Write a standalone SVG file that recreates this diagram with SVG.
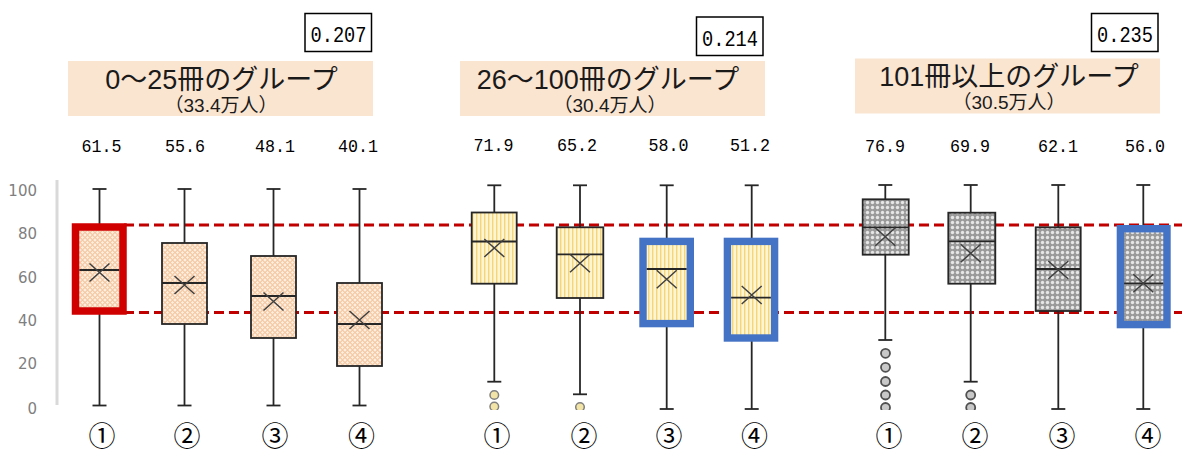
<svg xmlns="http://www.w3.org/2000/svg" width="1200" height="459" viewBox="0 0 1200 459">
<style>
.wh{stroke:#262626;stroke-width:1.8;fill:none}
.bx{stroke:#262626;stroke-width:1.8}
.med{stroke:#262626;stroke-width:1.8}
.mean{stroke:#404040;stroke-width:1.5;fill:none}
.hlr{stroke:#D00000;stroke-width:7.5}
.hlb{stroke:#4472C4;stroke-width:7.4}
.guide{stroke:#C00000;stroke-width:3.2;stroke-dasharray:10 5;fill:none}
.band{fill:#FAE5D1}
.title{font-family:"Liberation Sans","Noto Sans CJK JP",sans-serif;font-size:27px;fill:#1a1a1a;text-anchor:middle}
.sub{font-family:"Liberation Sans","Noto Sans CJK JP",sans-serif;font-size:19px;fill:#1a1a1a;text-anchor:middle}
.val{font-family:"Liberation Mono",monospace;font-size:19px;fill:#000;text-anchor:middle}
.coef{font-family:"Liberation Mono",monospace;font-size:22px;fill:#000;text-anchor:middle}
.cbox{fill:#fff;stroke:#000;stroke-width:1.5}
.ylab{font-family:"DejaVu Sans",sans-serif;font-size:15px;fill:#7F7F7F;text-anchor:end}
.cn{font-family:"Noto Sans CJK JP",sans-serif;font-size:27px;fill:#000;text-anchor:middle}
.o2{fill:#F2E3A6;stroke:#808080;stroke-width:1.5}
.o3{fill:#C8C8C8;stroke:#505050;stroke-width:1.8}
</style>
<defs>
<pattern id="p1" width="5" height="5" patternUnits="userSpaceOnUse">
<rect width="5" height="5" fill="#FDEEDF"/>
<circle cx="2.5" cy="2.5" r="1.9" fill="none" stroke="#F0B07A" stroke-width="0.8"/>
</pattern>
<pattern id="p2" width="4" height="4" patternUnits="userSpaceOnUse">
<rect width="4" height="4" fill="#FFF5D2"/>
<rect x="0" width="1.4" height="4" fill="#F3D57A"/>
</pattern>
<pattern id="p3" width="5" height="5" patternUnits="userSpaceOnUse">
<rect width="5" height="5" fill="#9A9A9A"/>
<circle cx="2.5" cy="2.5" r="1.7" fill="#E6E6E6"/>
</pattern>
<clipPath id="clipPlot"><rect x="0" y="170" width="1200" height="240"/></clipPath>
</defs>
<rect width="1200" height="459" fill="#fff"/>

<g id="axis">
<line x1="57" y1="180" x2="57" y2="405" stroke="#D9D9D9" stroke-width="3"/>
<text class="ylab" x="37" y="195.5">100</text>
<text class="ylab" x="37" y="238.5">80</text>
<text class="ylab" x="37" y="282.5">60</text>
<text class="ylab" x="37" y="325.5">40</text>
<text class="ylab" x="37" y="368.5">20</text>
<text class="ylab" x="37" y="413.5">0</text>
</g>

<g id="connectors">
<line class="guide" x1="124" y1="225" x2="1182" y2="225"/>
<line class="guide" x1="124" y1="312.5" x2="1182" y2="312.5"/>
</g>

<g id="header-g1">
<rect class="cbox" x="305" y="13.5" width="66.5" height="38"/>
<text class="coef" x="338.5" y="41.5" textLength="56" lengthAdjust="spacingAndGlyphs">0.207</text>
<rect class="band" x="68" y="61" width="305" height="55"/>
<text class="title" x="221.5" y="88.5">0～25冊のグループ</text>
<text class="sub" x="221" y="112">（33.4万人）</text>
<text class="val" x="101.5" y="152" textLength="40" lengthAdjust="spacingAndGlyphs">61.5</text>
<text class="val" x="185" y="152" textLength="40" lengthAdjust="spacingAndGlyphs">55.6</text>
<text class="val" x="275" y="152" textLength="40" lengthAdjust="spacingAndGlyphs">48.1</text>
<text class="val" x="358" y="152" textLength="40" lengthAdjust="spacingAndGlyphs">40.1</text>
</g>
<g id="header-g2">
<rect class="cbox" x="696.5" y="17" width="66.5" height="38.5"/>
<text class="coef" x="730" y="45.5" textLength="56" lengthAdjust="spacingAndGlyphs">0.214</text>
<rect class="band" x="460" y="61" width="305" height="55"/>
<text class="title" x="608" y="88.5">26～100冊のグループ</text>
<text class="sub" x="610" y="112">（30.4万人）</text>
<text class="val" x="493.5" y="151" textLength="40" lengthAdjust="spacingAndGlyphs">71.9</text>
<text class="val" x="577" y="151" textLength="40" lengthAdjust="spacingAndGlyphs">65.2</text>
<text class="val" x="668.5" y="151" textLength="40" lengthAdjust="spacingAndGlyphs">58.0</text>
<text class="val" x="750" y="151" textLength="40" lengthAdjust="spacingAndGlyphs">51.2</text>
</g>
<g id="header-g3">
<rect class="cbox" x="1091.5" y="13.5" width="66.5" height="38"/>
<text class="coef" x="1125" y="41.5" textLength="56" lengthAdjust="spacingAndGlyphs">0.235</text>
<rect class="band" x="855" y="58.5" width="305" height="55"/>
<text class="title" x="1009" y="85.5">101冊以上のグループ</text>
<text class="sub" x="1009" y="109">（30.5万人）</text>
<text class="val" x="885" y="152" textLength="40" lengthAdjust="spacingAndGlyphs">76.9</text>
<text class="val" x="970" y="152" textLength="40" lengthAdjust="spacingAndGlyphs">69.9</text>
<text class="val" x="1058" y="152" textLength="40" lengthAdjust="spacingAndGlyphs">62.1</text>
<text class="val" x="1145" y="152" textLength="40" lengthAdjust="spacingAndGlyphs">56.0</text>
</g>

<!-- Group 1 -->
<g id="g1-b1">
<line class="wh" x1="99.5" y1="189" x2="99.5" y2="405.5"/>
<line class="wh" x1="92.5" y1="189" x2="106.5" y2="189"/>
<line class="wh" x1="92.5" y1="405.5" x2="106.5" y2="405.5"/>
<rect class="hlr" x="75.5" y="227" width="47.5" height="84" fill="url(#p1)"/>
<line class="med" x1="79.3" y1="270" x2="119.2" y2="270"/>
<path class="mean" d="M89.5 263.5L109.5 281.5M89.5 281.5L109.5 263.5"/>
<text class="cn" x="102" y="446">①</text>
</g>
<g id="g1-b2">
<line class="wh" x1="184.5" y1="189" x2="184.5" y2="405.5"/>
<line class="wh" x1="177.5" y1="189" x2="191.5" y2="189"/>
<line class="wh" x1="177.5" y1="405.5" x2="191.5" y2="405.5"/>
<rect class="bx" x="162" y="243" width="45" height="81" fill="url(#p1)"/>
<line class="med" x1="162" y1="283" x2="207" y2="283"/>
<path class="mean" d="M174.5 276L194.5 294M174.5 294L194.5 276"/>
<text class="cn" x="187" y="446">②</text>
</g>
<g id="g1-b3">
<line class="wh" x1="273.5" y1="189" x2="273.5" y2="405.5"/>
<line class="wh" x1="266.5" y1="189" x2="280.5" y2="189"/>
<line class="wh" x1="266.5" y1="405.5" x2="280.5" y2="405.5"/>
<rect class="bx" x="251" y="256" width="45" height="82" fill="url(#p1)"/>
<line class="med" x1="251" y1="296" x2="296" y2="296"/>
<path class="mean" d="M263.5 292.5L283.5 310.5M263.5 310.5L283.5 292.5"/>
<text class="cn" x="275" y="446">③</text>
</g>
<g id="g1-b4">
<line class="wh" x1="359.5" y1="189" x2="359.5" y2="405.5"/>
<line class="wh" x1="352.5" y1="189" x2="366.5" y2="189"/>
<line class="wh" x1="352.5" y1="405.5" x2="366.5" y2="405.5"/>
<rect class="bx" x="337" y="283" width="45" height="83" fill="url(#p1)"/>
<line class="med" x1="337" y1="324" x2="382" y2="324"/>
<path class="mean" d="M349.5 311L369.5 329M349.5 329L369.5 311"/>
<text class="cn" x="361.5" y="446">④</text>
</g>

<!-- Group 2 -->
<g id="g2-b1">
<line class="wh" x1="494.3" y1="185.3" x2="494.3" y2="381.7"/>
<line class="wh" x1="487.3" y1="185.3" x2="501.3" y2="185.3"/>
<line class="wh" x1="487.3" y1="381.7" x2="501.3" y2="381.7"/>
<rect class="bx" x="471.7" y="212.5" width="45" height="71.2" fill="url(#p2)"/>
<line class="med" x1="471.7" y1="241.5" x2="516.7" y2="241.5"/>
<path class="mean" d="M484.3 239L504.3 257M484.3 257L504.3 239"/>
<g clip-path="url(#clipPlot)"><circle class="o2" cx="494.3" cy="395" r="4.3"/><circle class="o2" cx="494.3" cy="406.5" r="4.3"/></g>
<text class="cn" x="497" y="446">①</text>
</g>
<g id="g2-b2">
<line class="wh" x1="580" y1="185.3" x2="580" y2="394.3"/>
<line class="wh" x1="573" y1="185.3" x2="587" y2="185.3"/>
<line class="wh" x1="573" y1="394.3" x2="587" y2="394.3"/>
<rect class="bx" x="556.7" y="227.3" width="46.6" height="70.7" fill="url(#p2)"/>
<line class="med" x1="556.7" y1="254.3" x2="603.3" y2="254.3"/>
<path class="mean" d="M570 254.3L590 272.3M570 272.3L590 254.3"/>
<g clip-path="url(#clipPlot)"><circle class="o2" cx="580" cy="407" r="4.3"/></g>
<text class="cn" x="584" y="446">②</text>
</g>
<g id="g2-b3">
<line class="wh" x1="666.7" y1="185.3" x2="666.7" y2="409"/>
<line class="wh" x1="659.7" y1="185.3" x2="673.7" y2="185.3"/>
<line class="wh" x1="659.7" y1="409" x2="673.7" y2="409"/>
<rect class="hlb" x="643" y="241.4" width="47.3" height="82.2" fill="url(#p2)"/>
<line class="med" x1="646.7" y1="269" x2="686.6" y2="269"/>
<path class="mean" d="M656.7 270.3L676.7 288.3M656.7 288.3L676.7 270.3"/>
<text class="cn" x="669" y="446">③</text>
</g>
<g id="g2-b4">
<line class="wh" x1="751.7" y1="185.3" x2="751.7" y2="409"/>
<line class="wh" x1="744.7" y1="185.3" x2="758.7" y2="185.3"/>
<line class="wh" x1="744.7" y1="409" x2="758.7" y2="409"/>
<rect class="hlb" x="727.4" y="241.4" width="47.2" height="96.6" fill="url(#p2)"/>
<line class="med" x1="731.1" y1="297.7" x2="770.9" y2="297.7"/>
<path class="mean" d="M741.7 286L761.7 304M741.7 304L761.7 286"/>
<text class="cn" x="754.5" y="446">④</text>
</g>

<!-- Group 3 -->
<g id="g3-b1">
<line class="wh" x1="885.3" y1="185" x2="885.3" y2="340"/>
<line class="wh" x1="878.3" y1="185" x2="892.3" y2="185"/>
<line class="wh" x1="878.3" y1="340" x2="892.3" y2="340"/>
<rect class="bx" x="862.7" y="199.3" width="46" height="55.4" fill="url(#p3)"/>
<line class="med" x1="862.7" y1="227.3" x2="908.7" y2="227.3"/>
<path class="mean" d="M875.3 227.7L895.3 245.7M875.3 245.7L895.3 227.7"/>
<g clip-path="url(#clipPlot)">
<circle class="o3" cx="885.5" cy="353.3" r="4.5"/>
<circle class="o3" cx="885.5" cy="367.3" r="4.5"/>
<circle class="o3" cx="885.5" cy="381.5" r="4.5"/>
<circle class="o3" cx="885.5" cy="395" r="4.5"/>
<circle class="o3" cx="885.5" cy="407.5" r="4.5"/>
</g>
<text class="cn" x="889" y="446">①</text>
</g>
<g id="g3-b2">
<line class="wh" x1="970.7" y1="185" x2="970.7" y2="381.7"/>
<line class="wh" x1="963.7" y1="185" x2="977.7" y2="185"/>
<line class="wh" x1="963.7" y1="381.7" x2="977.7" y2="381.7"/>
<rect class="bx" x="948.3" y="212.7" width="47" height="71" fill="url(#p3)"/>
<line class="med" x1="948.3" y1="241.3" x2="995.3" y2="241.3"/>
<path class="mean" d="M960.7 244.3L980.7 262.3M960.7 262.3L980.7 244.3"/>
<g clip-path="url(#clipPlot)">
<circle class="o3" cx="970.7" cy="395" r="4.5"/>
<circle class="o3" cx="970.7" cy="407.5" r="4.5"/>
</g>
<text class="cn" x="975" y="446">②</text>
</g>
<g id="g3-b3">
<line class="wh" x1="1058.3" y1="185" x2="1058.3" y2="409"/>
<line class="wh" x1="1051.3" y1="185" x2="1065.3" y2="185"/>
<line class="wh" x1="1051.3" y1="409" x2="1065.3" y2="409"/>
<rect class="bx" x="1035.7" y="227.3" width="45" height="83.7" fill="url(#p3)"/>
<line class="med" x1="1035.7" y1="269" x2="1080.7" y2="269"/>
<path class="mean" d="M1048.3 261L1068.3 279M1048.3 279L1068.3 261"/>
<text class="cn" x="1062" y="446">③</text>
</g>
<g id="g3-b4">
<line class="wh" x1="1143.3" y1="185" x2="1143.3" y2="409"/>
<line class="wh" x1="1136.3" y1="185" x2="1150.3" y2="185"/>
<line class="wh" x1="1136.3" y1="409" x2="1150.3" y2="409"/>
<rect class="hlb" x="1120.4" y="228.7" width="46.6" height="95.9" fill="url(#p3)"/>
<line class="med" x1="1124.1" y1="283.3" x2="1163.3" y2="283.3"/>
<path class="mean" d="M1133.3 274.3L1153.3 292.3M1133.3 292.3L1153.3 274.3"/>
<text class="cn" x="1148" y="446">④</text>
</g>
</svg>
